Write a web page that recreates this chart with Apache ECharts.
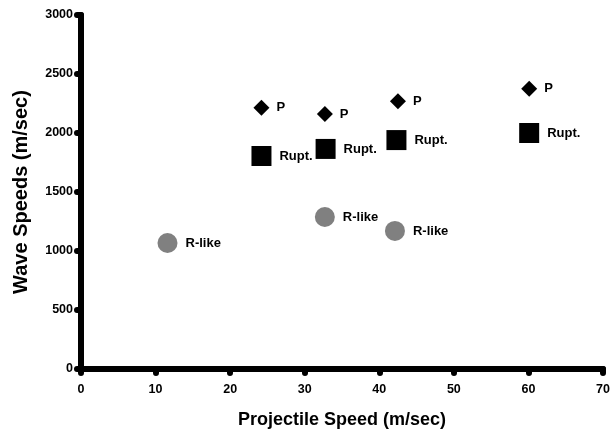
<!DOCTYPE html>
<html>
<head>
<meta charset="utf-8">
<script src="https://cdn.jsdelivr.net/npm/echarts@6/dist/echarts.min.js"></script>
<style>
  html, body { margin: 0; padding: 0; background: #fff; }
  #main { width: 612px; height: 430px; }
</style>
</head>
<body>
<div id="main"></div>
<script>
// 数据
const pPoints = [[24.2, 2215], [32.7, 2160], [42.5, 2270], [60.1, 2375]]
const ruptPoints = [[24.2, 1805], [32.8, 1865], [42.3, 1940], [60.1, 2000]]
const rLikePoints = [[11.6, 1068], [32.7, 1288], [42.1, 1170]]
const xTicks = { min: 0, max: 70, interval: 10 }
const yTicks = { min: 0, max: 3000, interval: 500 }

const font = 'Liberation Sans, Arial, sans-serif'

const chart = echarts.init(document.getElementById('main'))

const axisCommon = {
  axisLine: { show: true, lineStyle: { color: '#000', width: 6, cap: 'round' } },
  axisTick: { show: true, inside: false, length: 4, lineStyle: { color: '#000', width: 6, cap: 'round' } },
  splitLine: { show: false },
  axisLabel: {
    color: '#000', fontSize: 12.5, fontWeight: 'bold', fontFamily: font,
    formatter: function (v) { return String(v) } // 不要千分位
  },
  nameTextStyle: { color: '#000', fontWeight: 'bold', fontFamily: font }
}

function labelOf(text, dist) {
  return {
    show: true,
    position: 'right',
    distance: dist,
    formatter: text,
    color: '#000',
    fontSize: 13,
    fontWeight: 'bold',
    fontFamily: font
  }
}

const option = {
  animation: false,
  grid: { left: 81, right: 9, top: 15, bottom: 61, containLabel: false, outerBoundsMode: 'none' },
  xAxis: Object.assign({}, axisCommon, {
    type: 'value',
    min: xTicks.min,
    max: xTicks.max,
    interval: xTicks.interval,
    name: 'Projectile Speed (m/sec)',
    nameLocation: 'middle',
    nameGap: 42,
    axisLabel: Object.assign({}, axisCommon.axisLabel, { margin: 14 }),
    nameTextStyle: Object.assign({}, axisCommon.nameTextStyle, { fontSize: 18 })
  }),
  yAxis: Object.assign({}, axisCommon, {
    type: 'value',
    min: yTicks.min,
    max: yTicks.max,
    interval: yTicks.interval,
    name: 'Wave Speeds (m/sec)',
    nameLocation: 'middle',
    nameGap: 50,
    axisLabel: Object.assign({}, axisCommon.axisLabel, { margin: 8 }),
    nameTextStyle: Object.assign({}, axisCommon.nameTextStyle, { fontSize: 20 })
  }),
  series: [
    {
      name: 'P',
      type: 'scatter',
      symbol: 'diamond',
      symbolSize: 16,
      itemStyle: { color: '#000', opacity: 1 },
      label: labelOf('P', 7),
      data: pPoints
    },
    {
      name: 'Rupt.',
      type: 'scatter',
      symbol: 'rect',
      symbolSize: 20,
      itemStyle: { color: '#000', opacity: 1, borderRadius: 2 },
      label: labelOf('Rupt.', 8),
      data: ruptPoints
    },
    {
      name: 'R-like',
      type: 'scatter',
      symbol: 'circle',
      symbolSize: 20,
      itemStyle: { color: '#808080', opacity: 1 },
      label: labelOf('R-like', 8),
      data: rLikePoints
    }
  ]
}

chart.setOption(option)
</script>
</body>
</html>
